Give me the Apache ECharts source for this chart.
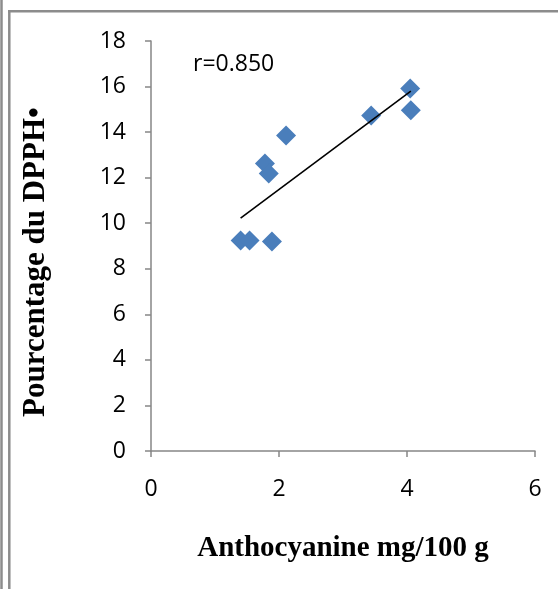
<!DOCTYPE html>
<html>
<head>
<meta charset="utf-8">
<script src="https://cdn.jsdelivr.net/npm/echarts@6/dist/echarts.min.js"></script>
<style>
  html, body { margin: 0; padding: 0; background: #fff; }
  #main { width: 558px; height: 589px; }
</style>
</head>
<body>
<div id="main"></div>
<script>
// anthocyanine (mg/100 g) vs % DPPH
const anthocyanine = [4.05, 4.06, 3.44, 2.11, 1.78, 1.84, 1.40, 1.54, 1.89]
const dpph = [15.91, 14.96, 14.73, 13.85, 12.62, 12.18, 9.24, 9.24, 9.20]
const xTicks = [0, 2, 4, 6]
const yTicks = [0, 2, 4, 6, 8, 10, 12, 14, 16, 18]
const rLabel = 'r=0.850'
const xName = 'Anthocyanine mg/100 g'
const yName = 'Pourcentage du DPPH•'

// least squares trendline, like excel does it
function trend(xs, ys) {
  const n = xs.length
  const mx = xs.reduce((a, b) => a + b, 0) / n
  const my = ys.reduce((a, b) => a + b, 0) / n
  let sxy = 0, sxx = 0
  xs.forEach((x, i) => { sxy += (x - mx) * (ys[i] - my); sxx += (x - mx) ** 2 })
  const k = sxy / sxx
  const x0 = Math.min(...xs), x1 = Math.max(...xs)
  return [[x0, my + k * (x0 - mx)], [x1, my + k * (x1 - mx)]]
}

const chart = echarts.init(document.getElementById('main'))
const axisGray = '#868686'
const frameGray = '#8c8c8c'
const tickFont = { color: '#000', fontFamily: 'Open Sans', fontSize: 23 }

chart.setOption({
  animation: false,
  grid: { left: 151, right: 23, top: 41, bottom: 138 },
  xAxis: {
    type: 'value',
    min: xTicks[0],
    max: xTicks[xTicks.length - 1],
    interval: 2,
    splitLine: { show: false },
    axisLine: { onZero: false, lineStyle: { color: axisGray, width: 1.5 } },
    axisTick: { show: true, length: 6, lineStyle: { color: axisGray, width: 1.5 } },
    axisLabel: { ...tickFont, margin: 27 },
    name: xName,
    nameLocation: 'middle',
    nameGap: 83,
    nameTextStyle: { fontFamily: 'Liberation Serif', fontWeight: 'bold', fontSize: 29, color: '#000' },
  },
  yAxis: {
    type: 'value',
    min: yTicks[0],
    max: yTicks[yTicks.length - 1],
    interval: 2,
    splitLine: { show: false },
    axisLine: { show: true, onZero: false, lineStyle: { color: axisGray, width: 1.5 } },
    axisTick: { show: true, length: 6, lineStyle: { color: axisGray, width: 1.5 } },
    axisLabel: { ...tickFont, margin: 25 },
  },
  series: [
    {
      type: 'line',
      data: trend(anthocyanine, dpph),
      symbol: 'none',
      lineStyle: { color: '#000', width: 1.6 },
      silent: true,
    },
    {
      type: 'scatter',
      data: anthocyanine.map((x, i) => [x, dpph[i]]),
      symbol: 'path://M0,-1L1,0L0,1L-1,0Z',
      symbolSize: 20,
      itemStyle: { color: '#4a7ebb', opacity: 1 },
    },
  ],
  graphic: [
    { type: 'text', left: 193, top: 53, style: { text: rLabel, ...tickFont, fill: '#000' } },
    {
      type: 'text', x: 36, y: 262, rotation: Math.PI / 2,
      style: { text: yName, fontFamily: 'Liberation Serif', fontWeight: 'bold', fontSize: 31, fill: '#000', align: 'center', verticalAlign: 'middle' },
    },
    // double border on the left, single on top
    { type: 'line', shape: { x1: 1.5, y1: 0, x2: 1.5, y2: 589 }, style: { stroke: frameGray, lineWidth: 2.5 } },
    { type: 'line', shape: { x1: 9.3, y1: 10, x2: 9.3, y2: 589 }, style: { stroke: frameGray, lineWidth: 2.5 } },
    { type: 'line', shape: { x1: 8, y1: 11.3, x2: 558, y2: 11.3 }, style: { stroke: frameGray, lineWidth: 2.5 } },
  ],
})
</script>
</body>
</html>
